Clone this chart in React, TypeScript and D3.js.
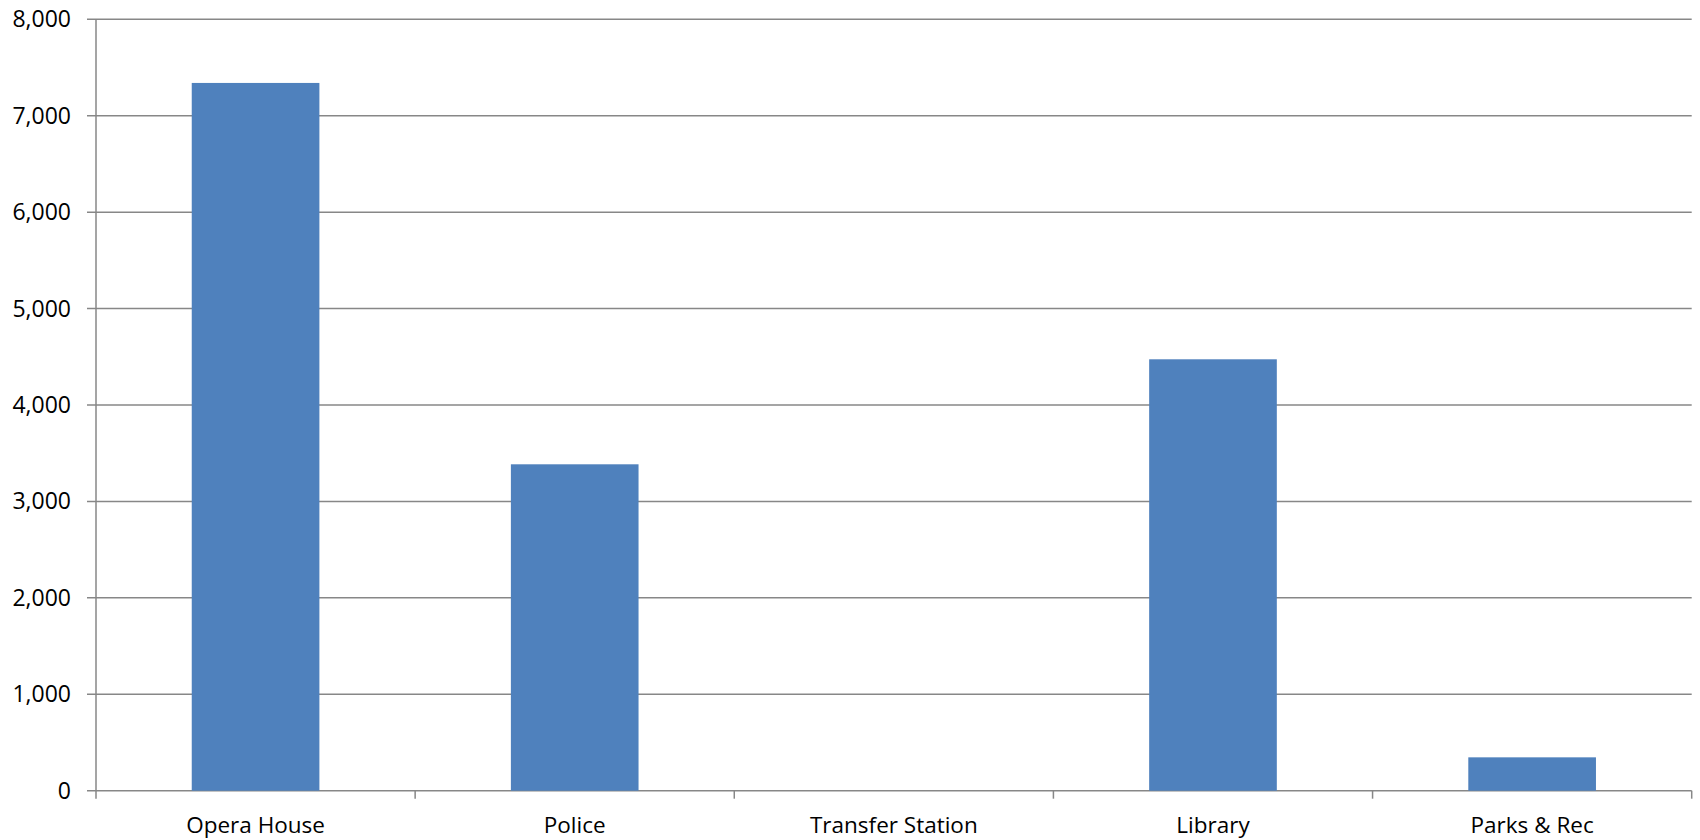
import React from "react";
import * as d3 from "d3";

const categories = ["Opera House", "Police", "Transfer Station", "Library", "Parks & Rec"];
const values = [7340, 3385, 0, 4474, 346];
const yTicks = [0, 1000, 2000, 3000, 4000, 5000, 6000, 7000, 8000];

const W = 1700;
const H = 840;
const left = 96;
const right = 1691.7;
const top = 19.3;
const bottom = 790.7;

export default function App() {
  const x = d3.scaleBand<string>().domain(categories).range([left, right]).paddingInner(0.6).paddingOuter(0.3);
  const xb = d3.scaleBand<string>().domain(categories).range([left, right]);
  const y = d3.scaleLinear().domain([0, 8000]).range([bottom, top]);
  const fmt = d3.format(",");
  const grid = "#878787";
  const font = "'Open Sans', 'Noto Sans', sans-serif";
  return (
    <svg width={W} height={H} style={{ position: "absolute", left: 0, top: 0, background: "#fff" }}>
      {yTicks.map((t) => (
        <g key={t}>
          <line x1={left - 9} x2={right} y1={y(t)} y2={y(t)} stroke={grid} strokeWidth={1.5} />
          <text x={71} y={y(t)} dy="0.35em" textAnchor="end" fontFamily={font} fontSize={23} fill="#000">
            {fmt(t)}
          </text>
        </g>
      ))}
      <line x1={left} x2={left} y1={top} y2={bottom + 8} stroke={grid} strokeWidth={1.5} />
      {categories.map((c) => (
        <line key={"t" + c} x1={xb(c)! + xb.bandwidth()} x2={xb(c)! + xb.bandwidth()} y1={bottom} y2={bottom + 8} stroke={grid} strokeWidth={1.5} />
      ))}
      {categories.map((c, i) => (
        <rect key={"b" + c} x={x(c)} width={x.bandwidth()} y={y(values[i])} height={bottom - y(values[i])} fill="#4F81BD" />
      ))}
      {categories.map((c) => (
        <text key={"l" + c} x={xb(c)! + xb.bandwidth() / 2} y={833} textAnchor="middle" fontFamily={font} fontSize={22.5} fill="#000">
          {c}
        </text>
      ))}
    </svg>
  );
}
